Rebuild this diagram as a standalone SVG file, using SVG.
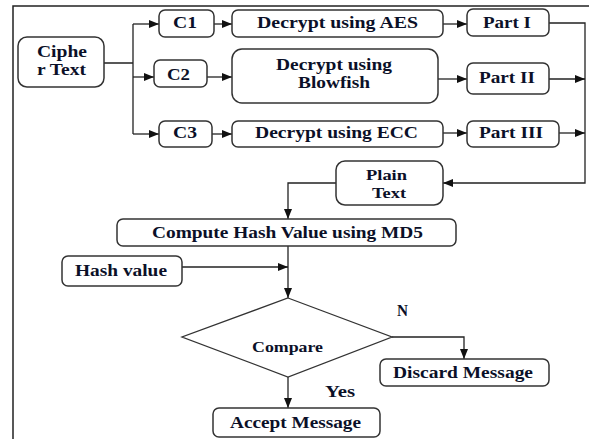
<svg xmlns="http://www.w3.org/2000/svg" width="589" height="439" viewBox="0 0 589 439">
<defs>
<marker id="ah" markerUnits="userSpaceOnUse" markerWidth="10" markerHeight="10" viewBox="0 0 10 10" refX="10" refY="5" orient="auto">
<path d="M0,1 L10,5 L0,9 Z" fill="#111"/>
</marker>
</defs>
<style>
.box{fill:#fff;stroke:#333;stroke-width:1.5}
.ln{fill:none;stroke:#222;stroke-width:1.3}
.t{font-family:"Liberation Serif","Times New Roman",serif;font-weight:bold;font-size:17px;fill:#0b1028}
</style>
<rect width="589" height="439" fill="#fff"/>
<path d="M589,6 H13 V439" fill="none" stroke="#222" stroke-width="1.5"/>
<g id="connectors">
<path class="ln" d="M104,63 H133 M133,24 V134"/>
<path class="ln" d="M133,24 H159" marker-end="url(#ah)"/>
<path class="ln" d="M133,77 H154" marker-end="url(#ah)"/>
<path class="ln" d="M133,134 H159" marker-end="url(#ah)"/>
<path class="ln" d="M214,24 H232" marker-end="url(#ah)"/>
<path class="ln" d="M207,77 H232" marker-end="url(#ah)"/>
<path class="ln" d="M212,134 H232" marker-end="url(#ah)"/>
<path class="ln" d="M443,24 H467" marker-end="url(#ah)"/>
<path class="ln" d="M438,79 H467" marker-end="url(#ah)"/>
<path class="ln" d="M443,133 H467" marker-end="url(#ah)"/>
<path class="ln" d="M549,23 H585 V183 H443" marker-end="url(#ah)"/>
<path class="ln" d="M549,79 H585" marker-end="url(#ah)"/>
<path class="ln" d="M559,133 H585" marker-end="url(#ah)"/>
<path class="ln" d="M336,183 H288 V219" marker-end="url(#ah)"/>
<path class="ln" d="M288,246 V298" marker-end="url(#ah)"/>
<path class="ln" d="M182,267 H288" marker-end="url(#ah)"/>
<path class="ln" d="M392,337 H464 V359" marker-end="url(#ah)"/>
<path class="ln" d="M288,377 V408" marker-end="url(#ah)"/>
</g>
<g id="cipher"><rect class="box" x="18" y="37" width="86" height="50" rx="9"/>
<text class="t" x="37" y="57" style="font-size:16px" textLength="50" lengthAdjust="spacingAndGlyphs">Ciphe</text>
<text class="t" x="37" y="75" style="font-size:16px" textLength="49" lengthAdjust="spacingAndGlyphs">r Text</text></g>
<g id="c1"><rect class="box" x="159" y="10" width="55" height="27" rx="6"/>
<text class="t" x="173" y="28" textLength="24" lengthAdjust="spacingAndGlyphs">C1</text></g>
<g id="c2"><rect class="box" x="154" y="60" width="53" height="27" rx="6"/>
<text class="t" x="167" y="80" textLength="23" lengthAdjust="spacingAndGlyphs">C2</text></g>
<g id="c3"><rect class="box" x="159" y="121" width="53" height="26" rx="6"/>
<text class="t" x="173" y="138" textLength="24" lengthAdjust="spacingAndGlyphs">C3</text></g>
<g id="aes"><rect class="box" x="232" y="10" width="211" height="27" rx="6"/>
<text class="t" x="257" y="28" textLength="161" lengthAdjust="spacingAndGlyphs">Decrypt using AES</text></g>
<g id="blowfish"><rect class="box" x="232" y="49" width="206" height="54" rx="10"/>
<text class="t" x="276" y="70" style="font-size:16px" textLength="116" lengthAdjust="spacingAndGlyphs">Decrypt using</text>
<text class="t" x="298" y="88" style="font-size:16px" textLength="72" lengthAdjust="spacingAndGlyphs">Blowfish</text></g>
<g id="ecc"><rect class="box" x="232" y="121" width="211" height="26" rx="6"/>
<text class="t" x="255" y="138" textLength="163" lengthAdjust="spacingAndGlyphs">Decrypt using ECC</text></g>
<g id="part1"><rect class="box" x="467" y="9" width="82" height="27" rx="6"/>
<text class="t" x="483" y="28" textLength="48" lengthAdjust="spacingAndGlyphs">Part I</text></g>
<g id="part2"><rect class="box" x="467" y="63" width="82" height="31" rx="6"/>
<text class="t" x="479" y="83" textLength="56" lengthAdjust="spacingAndGlyphs">Part II</text></g>
<g id="part3"><rect class="box" x="467" y="121" width="92" height="26" rx="6"/>
<text class="t" x="479" y="138" textLength="64" lengthAdjust="spacingAndGlyphs">Part III</text></g>
<g id="plain"><rect class="box" x="336" y="161" width="107" height="44" rx="9"/>
<text class="t" x="366" y="180" style="font-size:15.5px" textLength="41" lengthAdjust="spacingAndGlyphs">Plain</text>
<text class="t" x="372" y="198" style="font-size:15.5px" textLength="34" lengthAdjust="spacingAndGlyphs">Text</text></g>
<g id="compute"><rect class="box" x="117" y="219" width="339" height="27" rx="6"/>
<text class="t" x="152" y="238" textLength="271" lengthAdjust="spacingAndGlyphs">Compute Hash Value using MD5</text></g>
<g id="hash"><rect class="box" x="62" y="256" width="120" height="30" rx="6"/>
<text class="t" x="75" y="276" textLength="92" lengthAdjust="spacingAndGlyphs">Hash value</text></g>
<g id="compare"><polygon points="288,298 392,337 288,377 182,337" fill="#fff" stroke="#333" stroke-width="1.3"/>
<text class="t" x="252" y="352" style="font-size:15px" textLength="71" lengthAdjust="spacingAndGlyphs">Compare</text></g>
<text class="t" x="397" y="316" textLength="11" lengthAdjust="spacingAndGlyphs">N</text>
<text class="t" x="325" y="397" textLength="30" lengthAdjust="spacingAndGlyphs">Yes</text>
<g id="discard"><rect class="box" x="380" y="359" width="169" height="27" rx="6"/>
<text class="t" x="393" y="378" textLength="140" lengthAdjust="spacingAndGlyphs">Discard Message</text></g>
<g id="accept"><rect class="box" x="213" y="408" width="167" height="29" rx="6"/>
<text class="t" x="230" y="428" textLength="131" lengthAdjust="spacingAndGlyphs">Accept Message</text></g>
</svg>
